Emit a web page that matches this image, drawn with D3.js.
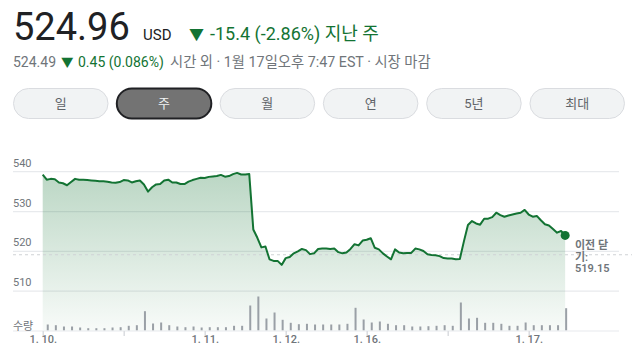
<!DOCTYPE html>
<html><head><meta charset="utf-8">
<script src="https://cdn.jsdelivr.net/npm/d3@7"></script>
<style>
body{margin:0;background:#fff}
svg{display:block}
text{font-family:Roboto,"Noto Sans CJK KR",sans-serif}
</style>
</head><body><svg id="c" width="632" height="360"></svg>
<script>
// ---- data ----
const prices = [
539.25,538.0,538.2,538.1,537.3,537.1,536.6,537.4,538.2,538.0,
538.0,537.9,537.8,537.7,537.6,537.6,537.5,537.3,537.2,537.4,
537.9,537.8,537.3,537.6,537.8,536.8,535.0,536.1,536.8,536.9,
537.8,538.0,537.3,537.3,536.9,536.9,537.5,537.9,538.2,538.5,
538.4,538.7,538.8,538.9,539.2,538.75,538.9,539.4,539.7,539.3,
539.3,539.4,525.5,523.4,521.0,521.2,518.0,517.6,517.6,516.6,
518.3,518.6,519.5,520.0,520.6,520.3,519.3,519.5,520.6,520.7,
520.7,520.6,520.7,519.8,519.5,519.7,520.6,521.8,521.5,522.7,
522.9,523.3,520.9,520.5,519.5,518.7,518.0,520.5,519.7,519.5,
519.6,519.6,520.7,520.5,520.1,519.25,519.1,519.0,518.8,518.3,
518.2,518.2,518.0,518.1,522.5,526.6,527.6,527.0,526.7,528.2,
528.2,528.6,529.7,529.1,528.7,529.0,529.25,529.5,529.7,530.4,
529.25,528.7,528.9,527.8,526.8,526.5,525.6,524.7,525.1,524.0
];
const volumes = [
6,5.3,4,4,3,2.3,2.3,2.3,3,3.3,4.7,5.3,19.3,7,8,5.3,4,3.3,4,3,
3.3,3.3,3.3,4.7,4.7,25,34,12,18,10.7,7.7,6.3,
6.7,6,6,6,6,6.7,22.7,11,8,9,6.7,5.3,5.3,4,4,4.3,4.7,5.3,4.7,
28,12,12.7,7.7,7.7,6.7,4.7,4.7,8,5.3,5.3,5.3,5.3,22.3
];
const yTicks = [510,520,530,540];
const xTickIdx = [0,20,40,60,80,100,120];
const xTickLabels = ["1. 10.","","1. 11.","1. 12.","1. 16.","","1. 17."];
const ranges = ["일","주","월","연","5년","최대"];
const selectedRange = "주";
const prevClose = 519.15;
const lastPrice = "524.96";
const currency = "USD";
const changeText = "-15.4 (-2.86%) 지난 주";
const afterPrice = "524.49";
const afterChange = "0.45 (0.086%)";
const afterNote = "시간 외 · 1월 17일오후 7:47 EST · 시장 마감";
const prevCloseLabel = ["이전 닫","기:","519.15"];
const volumeLabel = "수량";

// ---- drawing ----
const svg = d3.select("#c");
const green = "#137333", gray = "#70757a";

// header
svg.append("text").attr("x",13).attr("y",40).attr("font-size",38).attr("fill","#202124").text(lastPrice);
svg.append("text").attr("x",143).attr("y",40).attr("font-size",15).attr("fill","#202124").text(currency);
svg.append("text").attr("x",189).attr("y",40).attr("font-size",15).attr("fill",green).text("▼");
svg.append("text").attr("x",210).attr("y",40).attr("font-size",18).attr("fill",green).text(changeText);
svg.append("text").attr("x",13).attr("y",67).attr("font-size",14).attr("fill",gray).text(afterPrice);
svg.append("text").attr("x",61).attr("y",67).attr("font-size",12.5).attr("fill",green).text("▼");
svg.append("text").attr("x",78).attr("y",67).attr("font-size",14).attr("fill",green).text(afterChange);
svg.append("text").attr("x",170).attr("y",67).attr("font-size",14.3).attr("fill",gray).text(afterNote);

// range buttons
const bx = d3.scaleBand().domain(ranges).range([13,625]).paddingInner(0.075).paddingOuter(0);
const bg = svg.append("g").selectAll("g").data(ranges).join("g")
  .attr("transform",d=>`translate(${bx(d)},88)`);
bg.append("rect").attr("x",0.5).attr("y",0.5).attr("width",bx.bandwidth()-1).attr("height",30).attr("rx",15)
  .attr("fill",d=>d===selectedRange?"#737373":"#f1f3f4")
  .attr("stroke",d=>d===selectedRange?"#202124":"#dadce0")
  .attr("stroke-width",d=>d===selectedRange?2:1);
bg.append("text").attr("x",bx.bandwidth()/2).attr("y",20).attr("text-anchor","middle").attr("font-size",13)
  .attr("fill",d=>d===selectedRange?"#f1f3f4":"#5f6368").text(d=>d);

// scales
const left=13, right=619, plotL=42.7, plotR=565.15, base=331;
const x = d3.scaleLinear().domain([0,prices.length-1]).range([plotL,plotR]);
const y = d3.scaleLinear().domain([500,540]).range([base,171.7]);
const vy = d3.scaleLinear().domain([0,35]).range([0,35]);

// gradient
const defs = svg.append("defs");
const grad = defs.append("linearGradient").attr("id","g").attr("gradientUnits","userSpaceOnUse")
  .attr("x1",0).attr("x2",0).attr("y1",y(540)).attr("y2",base);
grad.append("stop").attr("offset",0).attr("stop-color",green).attr("stop-opacity",0.29);
grad.append("stop").attr("offset",1).attr("stop-color",green).attr("stop-opacity",0.03);

// gridlines + labels
const grid = svg.append("g");
grid.selectAll("line").data(yTicks).join("line")
  .attr("x1",left).attr("x2",right).attr("y1",d=>y(d)).attr("y2",d=>y(d))
  .attr("stroke","#e8eaed").attr("stroke-width",1.2);
grid.selectAll("text").data(yTicks).join("text")
  .attr("x",left).attr("y",d=>y(d)-5).attr("font-size",11).attr("fill",gray).text(d=>d);

// area + line
svg.append("path").datum(prices)
  .attr("d",d3.area().x((d,i)=>x(i)).y0(base).y1(d=>y(d)))
  .attr("fill","url(#g)");

// prev close dashed
svg.append("line").attr("x1",left).attr("x2",632).attr("y1",y(prevClose)).attr("y2",y(prevClose))
  .attr("stroke","#d0d2d5").attr("stroke-width",1.2).attr("stroke-dasharray","3,3");

// volume bars
svg.append("g").selectAll("rect").data(volumes).join("rect")
  .attr("x",(d,i)=>x(2*i+1)).attr("width",2)
  .attr("y",d=>base-0.5-vy(d)).attr("height",d=>vy(d))
  .attr("fill","#9aa0a6");

svg.append("path").datum(prices)
  .attr("d",d3.line().x((d,i)=>x(i)).y(d=>y(d)))
  .attr("fill","none").attr("stroke",green).attr("stroke-width",2).attr("stroke-linejoin","round");

svg.append("circle").attr("cx",x(prices.length-1)).attr("cy",y(prices[prices.length-1])).attr("r",4.5).attr("fill",green);

// baseline + x axis
svg.append("line").attr("x1",left).attr("x2",right).attr("y1",base).attr("y2",base).attr("stroke","#e8eaed").attr("stroke-width",1.2);
svg.append("text").attr("x",left).attr("y",base-1).attr("font-size",11).attr("fill",gray).text(volumeLabel);
const xa = svg.append("g").attr("transform",`translate(0,${base})`)
  .call(d3.axisBottom(x).tickValues(xTickIdx).tickSize(5).tickFormat((d,i)=>xTickLabels[i]));
xa.select(".domain").remove();
xa.selectAll(".tick line").attr("stroke","#dadce0").attr("stroke-width",1.5);
xa.selectAll(".tick text").attr("font-size",11).attr("fill",gray).attr("font-weight",500)
  .attr("font-family",'Roboto,"Noto Sans CJK KR",sans-serif').attr("dy","0.55em").attr("y",6);

// prev close label
svg.append("g").selectAll("text").data(prevCloseLabel).join("text")
  .attr("x",575).attr("y",(d,i)=>249+i*11.5).attr("font-size",11).attr("font-weight",600)
  .attr("fill",gray).text(d=>d);
</script></body></html>
